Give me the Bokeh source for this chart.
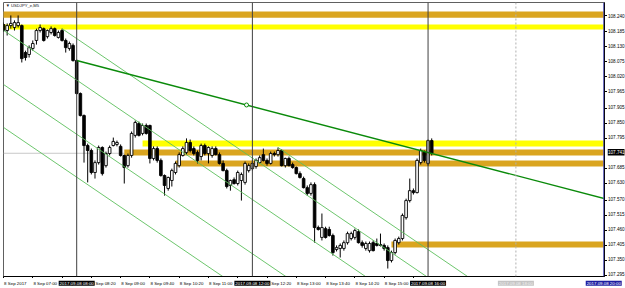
from bokeh.plotting import figure
from bokeh.layouts import column, row
from bokeh.models import Range1d, FixedTicker, Label, Span, ColumnDataSource, CustomJSTickFormatter
from bokeh.core.properties import value
from bokeh.embed import file_html
from bokeh.resources import INLINE

# ---------------- data ----------------
# bar index: 0 = 2017.09.08 08:00 (M5 bars)
bars = list(range(-20, 98))
opens = [108.209, 108.187, 108.205, 108.198, 108.205, 108.205, 108.107, 108.100, 108.122, 108.151,
         108.187, 108.194, 108.165, 108.180, 108.194, 108.162, 108.187, 108.151, 108.122, 108.133,
         108.078, 107.958, 107.878, 107.769, 107.751, 107.671, 107.707, 107.762, 107.696, 107.740,
         107.769, 107.773, 107.766, 107.733, 107.696, 107.733, 107.806, 107.849, 107.813, 107.842,
         107.842, 107.722, 107.758, 107.715, 107.660, 107.613, 107.642, 107.671, 107.696, 107.733,
         107.744, 107.780, 107.758, 107.744, 107.729, 107.769, 107.740, 107.733, 107.758, 107.736,
         107.704, 107.678, 107.624, 107.645, 107.631, 107.642, 107.635, 107.678, 107.685, 107.693,
         107.707, 107.736, 107.715, 107.704, 107.740, 107.736, 107.751, 107.696, 107.722, 107.700,
         107.689, 107.667, 107.649, 107.616, 107.595, 107.627, 107.471, 107.435, 107.467, 107.464,
         107.442, 107.391, 107.395, 107.395, 107.416, 107.431, 107.435, 107.456, 107.416, 107.395,
         107.387, 107.416, 107.413, 107.409, 107.406, 107.398, 107.351, 107.380, 107.416, 107.431,
         107.507, 107.569, 107.605, 107.598, 107.707, 107.744, 107.704, 107.787]
highs = [108.216, 108.213, 108.242, 108.224, 108.242, 108.209, 108.114, 108.133, 108.151, 108.194,
         108.209, 108.198, 108.191, 108.202, 108.198, 108.187, 108.194, 108.158, 108.147, 108.140,
         108.082, 107.962, 107.882, 107.776, 107.758, 107.715, 107.769, 107.766, 107.747, 107.769,
         107.798, 107.787, 107.773, 107.736, 107.740, 107.820, 107.860, 107.856, 107.849, 107.849,
         107.845, 107.766, 107.766, 107.722, 107.664, 107.656, 107.685, 107.711, 107.744, 107.766,
         107.795, 107.791, 107.766, 107.751, 107.776, 107.776, 107.766, 107.766, 107.766, 107.744,
         107.715, 107.685, 107.645, 107.653, 107.678, 107.671, 107.711, 107.704, 107.715, 107.722,
         107.733, 107.758, 107.722, 107.747, 107.747, 107.762, 107.755, 107.725, 107.729, 107.707,
         107.693, 107.675, 107.656, 107.624, 107.635, 107.635, 107.478, 107.522, 107.474, 107.474,
         107.449, 107.406, 107.413, 107.424, 107.456, 107.456, 107.467, 107.464, 107.424, 107.420,
         107.420, 107.424, 107.431, 107.449, 107.413, 107.406, 107.387, 107.431, 107.438, 107.522,
         107.576, 107.649, 107.613, 107.722, 107.758, 107.751, 107.791, 107.795]
lows = [108.183, 108.169, 108.194, 108.187, 108.198, 108.071, 108.078, 108.089, 108.114, 108.136,
        108.180, 108.147, 108.158, 108.173, 108.165, 108.158, 108.147, 108.107, 108.114, 108.074,
        107.955, 107.875, 107.707, 107.635, 107.664, 107.649, 107.700, 107.660, 107.689, 107.733,
        107.766, 107.766, 107.729, 107.631, 107.689, 107.725, 107.798, 107.802, 107.806, 107.809,
        107.704, 107.715, 107.707, 107.656, 107.587, 107.605, 107.620, 107.664, 107.689, 107.729,
        107.736, 107.744, 107.733, 107.704, 107.715, 107.733, 107.704, 107.725, 107.733, 107.700,
        107.675, 107.613, 107.605, 107.627, 107.624, 107.569, 107.627, 107.671, 107.678, 107.685,
        107.704, 107.711, 107.696, 107.700, 107.729, 107.729, 107.693, 107.689, 107.693, 107.685,
        107.664, 107.649, 107.613, 107.587, 107.587, 107.416, 107.460, 107.424, 107.431, 107.438,
        107.369, 107.384, 107.362, 107.387, 107.409, 107.424, 107.427, 107.413, 107.398, 107.387,
        107.380, 107.384, 107.402, 107.402, 107.387, 107.322, 107.344, 107.373, 107.409, 107.424,
        107.500, 107.562, 107.591, 107.595, 107.700, 107.707, 107.696, 107.733]
closes = [108.187, 108.205, 108.213, 108.216, 108.216, 108.085, 108.089, 108.125, 108.140, 108.187,
          108.198, 108.151, 108.187, 108.194, 108.169, 108.180, 108.151, 108.125, 108.140, 108.078,
          107.958, 107.878, 107.769, 107.751, 107.671, 107.707, 107.762, 107.667, 107.740, 107.762,
          107.784, 107.780, 107.733, 107.689, 107.733, 107.813, 107.853, 107.806, 107.842, 107.813,
          107.722, 107.758, 107.715, 107.660, 107.624, 107.653, 107.678, 107.704, 107.736, 107.758,
          107.780, 107.751, 107.740, 107.715, 107.769, 107.740, 107.762, 107.758, 107.736, 107.704,
          107.678, 107.620, 107.642, 107.631, 107.671, 107.664, 107.704, 107.696, 107.704, 107.715,
          107.725, 107.715, 107.704, 107.740, 107.736, 107.751, 107.696, 107.722, 107.696, 107.689,
          107.667, 107.653, 107.616, 107.595, 107.627, 107.471, 107.464, 107.471, 107.435, 107.442,
          107.380, 107.398, 107.406, 107.416, 107.449, 107.449, 107.460, 107.416, 107.406, 107.413,
          107.413, 107.387, 107.406, 107.406, 107.395, 107.351, 107.380, 107.424, 107.431, 107.515,
          107.569, 107.605, 107.598, 107.715, 107.751, 107.715, 107.787, 107.741]

bid_price = 107.741

# horizontal zones (rectangles): start bar, lower price, upper price
zone_start = [-25, -25, 18, 13, 27, 86]
zone_low = [108.234, 108.191, 107.766, 107.733, 107.693, 107.398]
zone_high = [108.256, 108.209, 107.787, 107.755, 107.715, 107.420]
zone_kind = ["orange", "yellow", "yellow", "orange", "orange", "orange"]

# thin channel lines: (start bar, start price, end bar, end price)
chan_x0 = [-20, -4, -20, -20, 55]
chan_y0 = [108.188, 108.194, 107.991, 107.835, 107.762]
chan_x1 = [84, 100, 84, 84, 110]
chan_y1 = [107.247, 107.253, 107.050, 106.894, 107.264]

# main trend line anchors
trend_x = [0, 92.8]
trend_y = [108.078, 107.755]

# price axis ticks
price_ticks = [108.240, 108.185, 108.130, 108.075, 108.020, 107.965, 107.905, 107.850,
               107.795, 107.685, 107.630, 107.570, 107.515, 107.460, 107.405, 107.350, 107.295]

# time axis ticks
time_ticks = [-20, -12, -4, 4, 12, 20, 28, 36, 44, 52, 60, 68, 76, 84, 92]
time_labels = ["8 Sep 2017", "8 Sep 07:00", "8 Sep 07:40", "8 Sep 08:20", "8 Sep 09:00",
               "8 Sep 09:40", "8 Sep 10:20", "8 Sep 11:00", "8 Sep 11:40", "8 Sep 12:20",
               "8 Sep 13:00", "8 Sep 13:40", "8 Sep 14:20", "8 Sep 15:00", "8 Sep 15:40"]

# vertical line objects
vline_bars = [0, 48, 96, 120, 144]
vline_labels = ["2017.09.08 08:00", "2017.09.08 12:00", "2017.09.08 16:00",
                "2017.09.08 18:00", "2017.09.08 20:00"]
vline_kind = ["solid", "solid", "solid", "dotted", "blue"]

title_text = "\u25bc USDJPY_e,M5"

# ---------------- layout constants ----------------
X0, X1 = -20.0, 144.21
Y0, Y1 = 107.293, 108.289
LEFT, FRAME_W, AX_R = 3, 601, 3
TOP, FRAME_H, AX_B = 2, 274, 2
STRIP_R = 625 - LEFT - FRAME_W - AX_R      # right label strip width
STRIP_B = 288 - TOP - FRAME_H - AX_B       # bottom label strip height
PPU = FRAME_W / (X1 - X0)                  # pixels per bar
PPY = FRAME_H / (Y1 - Y0)                  # pixels per price unit
FONT = "Liberation Sans"

# ---------------- main chart ----------------
p = figure(width=LEFT + FRAME_W + AX_R, height=TOP + FRAME_H + AX_B,
           output_backend="svg", toolbar_location=None,
           x_range=Range1d(X0, X1), y_range=Range1d(Y0, Y1),
           x_axis_location="below", y_axis_location="right",
           min_border_left=LEFT, min_border_right=AX_R, min_border_top=TOP,
           min_border_bottom=AX_B)
p.background_fill_color = "white"
p.border_fill_color = "white"
p.outline_line_color = "#606060"
p.xgrid.grid_line_color = None
p.ygrid.grid_line_color = None

# axes carry the tick marks; their labels are set in the side strips (MT4 style)
for ax, ticks in ((p.yaxis, price_ticks), (p.xaxis, time_ticks)):
    ax.ticker = FixedTicker(ticks=ticks)
    ax.formatter = CustomJSTickFormatter(code="return ''")
    ax.major_label_text_font_size = "0px"
    ax.major_label_standoff = 0
    ax.major_tick_in = 0
    ax.minor_tick_line_color = None
    ax.axis_line_color = "black"
    ax.major_tick_line_color = "black"
p.yaxis.major_tick_out = 3
p.xaxis.major_tick_out = 2

# bid line
p.add_layout(Span(location=bid_price, dimension="width", line_color="#c8c8c8",
                  line_width=1, level="underlay"))

# zones
zone_colors = {"orange": "#daa520", "yellow": "#ffff00"}
zsrc = ColumnDataSource(dict(left=zone_start, right=[X1 + 5] * len(zone_start),
                             bottom=zone_low, top=zone_high,
                             color=[zone_colors[k] for k in zone_kind]))
p.quad(left="left", right="right", bottom="bottom", top="top", fill_color="color",
       line_color=None, source=zsrc)

# candles
inc = [c >= o for o, c in zip(opens, closes)]
csrc = ColumnDataSource(dict(
    x=bars, high=highs, low=lows,
    top=[max(o, c) for o, c in zip(opens, closes)],
    bottom=[min(o, c) for o, c in zip(opens, closes)],
    fill=["white" if u else "black" for u in inc]))
p.segment(x0="x", y0="low", x1="x", y1="high", line_color="black", line_width=1, source=csrc)
p.vbar(x="x", width=0.72, top="top", bottom="bottom", fill_color="fill",
       line_color="black", line_width=0.9, source=csrc)

# channel lines
p.segment(x0=chan_x0, y0=chan_y0, x1=chan_x1, y1=chan_y1, line_color="#5cc05c", line_width=0.9)

# trend line (ray to the right edge)
slope = (trend_y[1] - trend_y[0]) / (trend_x[1] - trend_x[0])
p.line(x=[trend_x[0], X1 + 2], y=[trend_y[0], trend_y[0] + slope * (X1 + 2 - trend_x[0])],
       line_color="#0a8a0a", line_width=1.4)
p.scatter(x=[sum(trend_x) / 2], y=[sum(trend_y) / 2], marker="circle", size=4,
          fill_color="white", line_color="#0a8a0a", line_width=1)

# vertical lines
vstyles = {"solid": dict(line_color="#404040", line_width=1),
           "dotted": dict(line_color="#b0b0b0", line_width=1, line_dash="2 2"),
           "blue": dict(line_color="#4848b0", line_width=1)}
for bb, k in zip(vline_bars, vline_kind):
    p.add_layout(Span(location=bb, dimension="height", **vstyles[k]))

# symbol caption
p.add_layout(Label(x=X0 + 0.6, y=Y1 - 0.003, text=title_text, text_align="left",
                   text_baseline="top", text_font=FONT, text_font_size="4.2px",
                   text_color="#202020"))

# ---------------- right price-label strip ----------------
r = figure(width=STRIP_R, height=TOP + FRAME_H + AX_B, output_backend="svg",
           toolbar_location=None, x_range=Range1d(0, STRIP_R),
           y_range=Range1d(Y0 - AX_B / PPY, Y1),
           x_axis_location=None, y_axis_location=None,
           min_border_left=0, min_border_right=0, min_border_top=TOP, min_border_bottom=0)
r.outline_line_color = None
r.xgrid.grid_line_color = None
r.ygrid.grid_line_color = None
r.border_fill_color = "white"
r.background_fill_color = "white"
r.text(x=[0] * len(price_ticks), y=price_ticks, text=[f"{v:.3f}" for v in price_ticks],
       x_offset=0.5, text_align="left", text_baseline="middle",
       text_font=value(FONT), text_font_size="4.6px", text_color="black")
r.rect(x=[STRIP_R / 2 - 0.5], y=[bid_price], width=[STRIP_R - 1], height=6.5,
       height_units="screen", fill_color="black", line_color=None)
r.text(x=[0], y=[bid_price], text=[f"{bid_price:.3f}"], x_offset=0.5, text_align="left",
       text_baseline="middle", text_font=value(FONT), text_font_size="4.6px",
       text_color="white")

# ---------------- bottom time-label strip ----------------
bx0 = X0 - LEFT / PPU
b = figure(width=625, height=STRIP_B, output_backend="svg", toolbar_location=None,
           x_range=Range1d(bx0, bx0 + 625 / PPU), y_range=Range1d(0, STRIP_B),
           x_axis_location=None, y_axis_location=None,
           min_border_left=0, min_border_right=0, min_border_top=0, min_border_bottom=0)
b.outline_line_color = None
b.xgrid.grid_line_color = None
b.ygrid.grid_line_color = None
b.border_fill_color = "white"
b.background_fill_color = "white"
label_y = STRIP_B - 2.6
b.text(x=time_ticks, y=[label_y] * len(time_ticks), text=time_labels, x_offset=0.6,
       text_align="left", text_baseline="middle", text_font=value(FONT),
       text_font_size="4.4px", text_color="black")
vbg = {"solid": "black", "dotted": "#c4c4c4", "blue": "#1c1ca0"}
vfg = {"solid": "white", "dotted": "#f2f2f2", "blue": "white"}
b.rect(x=vline_bars, y=[label_y] * len(vline_bars), width=36, width_units="screen",
       height=5.4, height_units="screen", fill_color=[vbg[k] for k in vline_kind],
       line_color=None)
b.text(x=vline_bars, y=[label_y] * len(vline_bars), text=vline_labels, text_align="center",
       text_baseline="middle", text_font=value(FONT), text_font_size="4.4px",
       text_color=[vfg[k] for k in vline_kind])

layout = column(row(p, r, spacing=0), b, spacing=0)
open("out.html", "w").write(file_html(layout, INLINE))
